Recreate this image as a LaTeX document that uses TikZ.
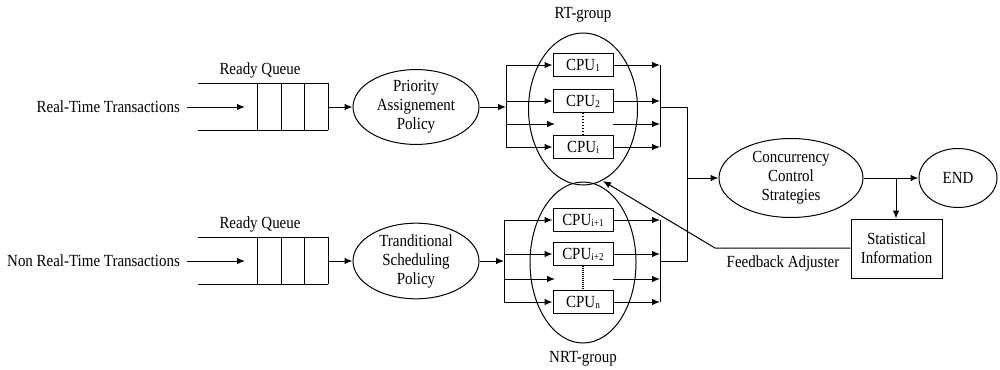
\documentclass[tikz,border=0pt]{standalone}
\usepackage{fontspec}
\setmainfont{Liberation Serif}[FakeStretch=0.88]
\usetikzlibrary{shapes.geometric,arrows.meta}
\newcommand\cpulabel[1]{CPU\raisebox{-0.1ex}{\fontsize{10.5}{10}\selectfont #1}}
\begin{document}
\begin{tikzpicture}[x=1pt,y=-1pt,
  every node/.style={font=\fontsize{17}{19}\selectfont, inner sep=0pt},
  ln/.style={line width=1pt},
  arr/.style={ln,-{Latex[length=8pt,width=6.5pt]}},
  ell/.style={draw,ln,ellipse,align=center},
  cpubox/.style={draw,ln,rectangle,minimum width=60pt,minimum height=23pt},
]
\useasboundingbox (0,0) rectangle (1000,369);

% ---------- RT branch ----------
\node[anchor=east] (rtin) at (180,107) {Real-Time Transactions};
\coordinate (rtq) at (245,107);
\draw[arr] (rtin.east) ++(7,0) -- (rtq);
\draw[ln] (198,83) -- (328,83) (198,130) -- (328,130);
\foreach \x in {257,281,304,328} \draw[ln] (\x,83) -- (\x,130);
\node (rq1) at (260,70) {Ready Queue};
\coordinate (rtqout) at (328,107);
\node[ell,minimum width=126pt,minimum height=62pt] (pap) at (416,107) {Priority\\Assignement\\Policy};
\draw[arr] (rtqout) -- (pap.west);

\node[draw,ln,ellipse,minimum width=109pt,minimum height=152pt] (rtg) at (583,109) {};
\node (rtgl) at (583,15) {RT-group};

\coordinate (rbin) at (506,107);
\coordinate (rb1) at (506,65);
\coordinate (rb2) at (506,101);
\coordinate (rb3) at (506,124);
\coordinate (rb4) at (506,147);
\draw[arr] (pap.east) -- (rbin);
\draw[ln] (rb1) -- (rb4);

\node[cpubox] (c1) at (583,65) {\cpulabel{1}};
\node[cpubox] (c2) at (583,101) {\cpulabel{2}};
\node[cpubox] (ci) at (583,147) {\cpulabel{i}};
\coordinate (e3l) at (555,124);
\coordinate (e3r) at (613,124);

\draw[arr] (rb1) -- (c1.west);
\draw[arr] (rb2) -- (c2.west);
\draw[arr] (rb3) -- (e3l);
\draw[arr] (rb4) -- (ci.west);
\draw[ln,dotted,line width=1.4pt] (c2.south) -- (ci.north);

\coordinate (ro1) at (660,65);
\coordinate (ro2) at (660,101);
\coordinate (ro3) at (660,124);
\coordinate (ro4) at (660,147);
\coordinate (rout) at (660,107);
\draw[arr] (c1.east) -- (ro1);
\draw[arr] (c2.east) -- (ro2);
\draw[arr] (e3r) -- (ro3);
\draw[arr] (ci.east) -- (ro4);
\draw[ln] (ro1) -- (ro4);

% ---------- NRT branch ----------
\node[anchor=east] (nrtin) at (180,261) {Non Real-Time Transactions};
\coordinate (nrtq) at (245,261);
\draw[arr] (nrtin.east) ++(7,0) -- (nrtq);
\draw[ln] (198,237) -- (328,237) (198,284) -- (328,284);
\foreach \x in {257,281,304,328} \draw[ln] (\x,237) -- (\x,284);
\node (rq2) at (260,224) {Ready Queue};
\coordinate (nrtqout) at (328,261);
\node[ell,minimum width=126pt,minimum height=66pt] (tsp) at (416,261) {Tranditional\\Scheduling\\Policy};
\draw[arr] (nrtqout) -- (tsp.west);

\node[draw,ln,ellipse,minimum width=106pt,minimum height=161pt] (nrtg) at (583,262.5) {};
\node (nrtgl) at (583,359) {NRT-group};

\coordinate (nbin) at (504,261);
\coordinate (nb1) at (504,220);
\coordinate (nb2) at (504,254);
\coordinate (nb3) at (504,279);
\coordinate (nb4) at (504,302);
\draw[arr] (tsp.east) -- (nbin);
\draw[ln] (nb1) -- (nb4);

\node[cpubox] (c5) at (583,220) {\cpulabel{i+1}};
\node[cpubox] (c6) at (583,254) {\cpulabel{i+2}};
\node[cpubox] (cn) at (583,302) {\cpulabel{n}};
\coordinate (f3l) at (555,279);
\coordinate (f3r) at (613,279);

\draw[arr] (nb1) -- (c5.west);
\draw[arr] (nb2) -- (c6.west);
\draw[arr] (nb3) -- (f3l);
\draw[arr] (nb4) -- (cn.west);
\draw[ln,densely dotted,line width=1.4pt] (c6.south) -- (cn.north);

\coordinate (no1) at (660,220);
\coordinate (no2) at (660,254);
\coordinate (no3) at (660,279);
\coordinate (no4) at (660,302);
\coordinate (nout) at (660,261);
\draw[arr] (c5.east) -- (no1);
\draw[arr] (c6.east) -- (no2);
\draw[arr] (f3r) -- (no3);
\draw[arr] (cn.east) -- (no4);
\draw[ln] (no1) -- (no4);

% ---------- merge ----------
\coordinate (mtop) at (687,107);
\coordinate (mbot) at (687,261);
\coordinate (mmid) at (687,178);
\draw[ln] (rout) -- (mtop) -- (mbot) -- (nout);
\node[ell,minimum width=144pt,minimum height=79pt] (ccs) at (791,178) {Concurrency\\Control\\Strategies};
\draw[arr] (mmid) -- (ccs.west);

\node[ell,minimum width=78pt,minimum height=59pt] (endn) at (958,178) {END};
\draw[arr] (ccs.east) -- (endn.west);

\node[draw,ln,rectangle,minimum width=91pt,minimum height=59pt,align=center] (stat) at (896.5,248.5) {Statistical\\Information};
\coordinate (split) at (896,178);
\draw[arr] (split) -- (split |- stat.north);

\coordinate (fbk) at (715,248);
\coordinate (fbtip) at (603,181);
\draw[arr] (stat.west |- fbk) -- (fbk) -- (fbtip);
\node (fbl) at (783,263) {Feedback Adjuster};
\end{tikzpicture}
\end{document}
